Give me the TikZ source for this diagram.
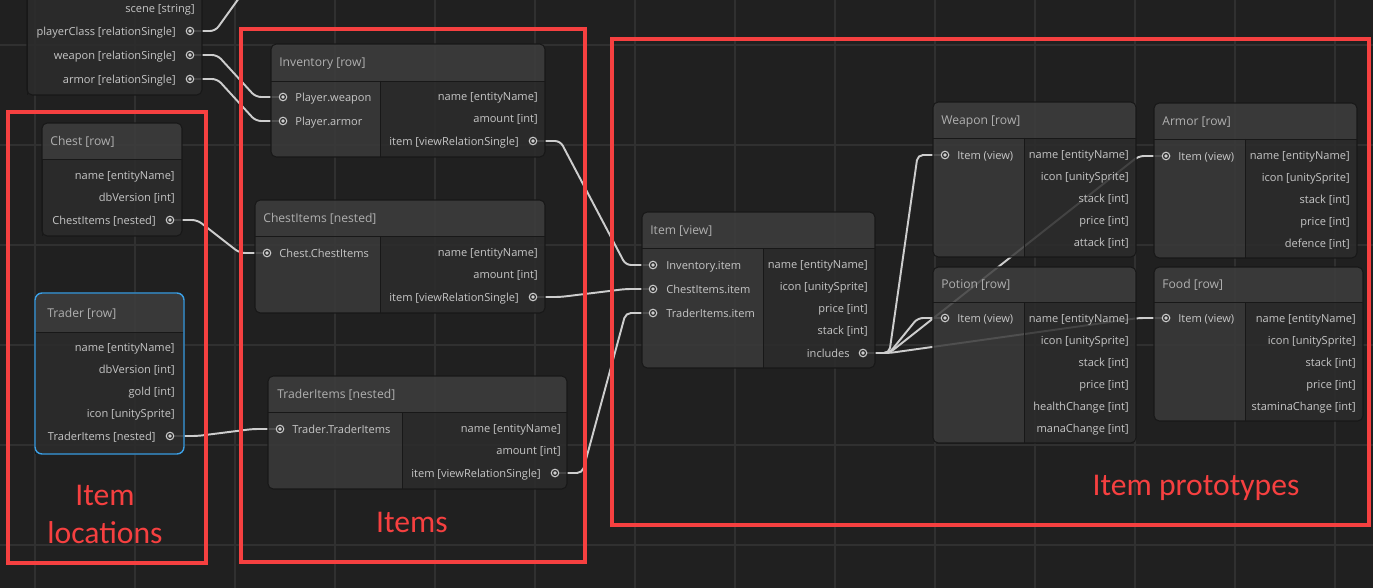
\documentclass[tikz,border=0pt]{standalone}
\usepackage{fontspec}
\setmainfont{Open Sans}
\newfontfamily\labelfont{Carlito}
\usetikzlibrary{calc}
\pgfdeclarelayer{bg}
\pgfdeclarelayer{links}
\pgfsetlayers{bg,links,main}
\definecolor{canvas}{RGB}{32,32,32}
\definecolor{gridline}{RGB}{48,48,48}
\definecolor{headfill}{RGB}{62,62,62}
\definecolor{bodyfill}{RGB}{44,44,44}
\definecolor{leftfill}{RGB}{58,58,58}
\definecolor{edgecol}{RGB}{24,24,24}
\definecolor{wirecol}{RGB}{205,205,205}
\definecolor{fieldtxt}{RGB}{198,198,198}
\definecolor{titletxt}{RGB}{176,176,176}
\definecolor{markred}{RGB}{246,64,64}
\definecolor{selblue}{RGB}{60,160,230}

\begin{document}
\begin{tikzpicture}[x=0.02cm, y=-0.02cm,
  fld/.style={inner sep=0pt, text=fieldtxt, font=\fontsize{6.3}{7}\selectfont},
  title/.style={inner sep=0pt, anchor=mid west, text=titletxt, font=\fontsize{6.9}{8}\selectfont},
  port/.style={circle, draw=wirecol, line width=0.6pt, fill=bodyfill, minimum size=4.3pt, inner sep=0pt,
    path picture={\fill[wirecol] (path picture bounding box.center) circle (1.05pt);}},
  wire/.style={draw=wirecol, line width=1.1pt, rounded corners=3pt},
  zone/.style={draw=markred, line width=1.8pt},
  zonetxt/.style={inner sep=0pt, anchor=base, text=markred, font=\labelfont\fontsize{18}{21}\selectfont}]
\useasboundingbox (0,0) rectangle (1373,588);
\begin{pgfonlayer}{bg}
\fill[canvas] (0,0) rectangle (1373,588);
\foreach \i in {0,...,13} \draw[gridline, line width=1pt] ({35+100*\i},0) -- ({35+100*\i},588);
\foreach \i in {0,...,5} \draw[gridline, line width=1pt] (0,{45+100*\i}) -- (1373,{45+100*\i});
\end{pgfonlayer}

\foreach \xa/\ya/\xb/\yb/\yh/\xl in {27/-40/202/95/-40/27, 42/123/182/236/159/42, 35/293/184/454/332/35,
    271/44/545/157/81/380, 255/200/545/313/236/380, 268/376/567/489/412/402, 642/212/875/368/248/763,
    933/102/1136/257/138/1024, 1154/103/1357/258/139/1245, 933/267/1136/443/302/1024, 1154/267/1363/421/302/1245} {
  \begin{scope}
    \clip[rounded corners=3pt] (\xa,\ya) rectangle (\xb,\yb);
    \fill[headfill, fill opacity=0.85] (\xa,\ya) rectangle (\xb,\yh);
    \fill[leftfill, fill opacity=0.85] (\xa,\yh) rectangle (\xl,\yb);
    \fill[bodyfill, fill opacity=0.85] (\xl,\yh) rectangle (\xb,\yb);
  \end{scope}
  \draw[edgecol, line width=0.5pt] (\xa,\yh) -- (\xb,\yh) (\xl,\yh) -- (\xl,\yb);
  \draw[edgecol, line width=0.6pt, rounded corners=3pt] (\xa,\ya) rectangle (\xb,\yb);
}
\draw[selblue, line width=0.8pt, rounded corners=4pt] (35,293) rectangle (184,454);

\node[title] (chest) at (50,141) {Chest [row]};
\node[title] (trader) at (47,313) {Trader [row]};
\node[title] (inv) at (279,62) {Inventory [row]};
\node[title] (chi) at (263,218) {ChestItems [nested]};
\node[title] (tri) at (277,394) {TraderItems [nested]};
\node[title] (itm) at (650,230) {Item [view]};
\node[title] (wpn) at (941,120) {Weapon [row]};
\node[title] (arm) at (1162,121) {Armor [row]};
\node[title] (pot) at (941,284) {Potion [row]};
\node[title] (food) at (1162,284) {Food [row]};

\node[fld, anchor=mid east] (pl-f0) at (195,8) {scene [string]};
\node[fld, anchor=mid east] (pl-f1) at (176,31) {playerClass [relationSingle]};
\node[fld, anchor=mid east] (pl-f2) at (176,55) {weapon [relationSingle]};
\node[fld, anchor=mid east] (pl-f3) at (176,79) {armor [relationSingle]};
\node[port] (pl-class) at (190,31) {};
\node[port] (pl-weapon) at (190,55) {};
\node[port] (pl-armor) at (190,79) {};

\foreach \t [count=\i] in {name [entityName], dbVersion [int]}
  \node[fld, anchor=mid east] (chest-f\i) at (175,{153+22*\i}) {\t};
\node[fld, anchor=mid east] (chest-f3) at (156,220) {ChestItems [nested]};
\node[port] (ch-items) at (170,220) {};

\foreach \t [count=\i] in {name [entityName], dbVersion [int], gold [int], icon [unitySprite]}
  \node[fld, anchor=mid east] (trader-f\i) at (175,{325+22*\i}) {\t};
\node[fld, anchor=mid east] (trader-f5) at (156,436) {TraderItems [nested]};
\node[port] (tr-items) at (170,436) {};

\foreach \t [count=\i] in {name [entityName], amount [int]}
  \node[fld, anchor=mid east] (inv-f\i) at (538,{74+22*\i}) {\t};
\node[fld, anchor=mid east] (inv-f3) at (519,141) {item [viewRelationSingle]};
\node[port] (inv-item) at (533,141) {};
\node[port] (inv-w) at (283,97) {};
\node[port] (inv-a) at (283,121) {};
\node[fld, anchor=mid west] (inv-l1) at (295,97) {Player.weapon};
\node[fld, anchor=mid west] (inv-l2) at (295,121) {Player.armor};

\foreach \t [count=\i] in {name [entityName], amount [int]}
  \node[fld, anchor=mid east] (chi-f\i) at (538,{230+22*\i}) {\t};
\node[fld, anchor=mid east] (chi-f3) at (519,297) {item [viewRelationSingle]};
\node[port] (chi-item) at (533,297) {};
\node[port] (chi-in) at (267,253) {};
\node[fld, anchor=mid west] (chi-l1) at (279,253) {Chest.ChestItems};

\foreach \t [count=\i] in {name [entityName], amount [int]}
  \node[fld, anchor=mid east] (tri-f\i) at (561,{406+22*\i}) {\t};
\node[fld, anchor=mid east] (tri-f3) at (541,473) {item [viewRelationSingle]};
\node[port] (tri-item) at (555,473) {};
\node[port] (tri-in) at (280,429) {};
\node[fld, anchor=mid west] (tri-l1) at (292,429) {Trader.TraderItems};

\foreach \t [count=\i] in {name [entityName], icon [unitySprite], price [int], stack [int]}
  \node[fld, anchor=mid east] (itm-f\i) at (868,{242+22*\i}) {\t};
\node[fld, anchor=mid east] (itm-f5) at (850,353) {includes};
\node[port] (itm-inc) at (863,353) {};
\node[port] (itm-inv) at (653,265) {};
\node[port] (itm-chi) at (653,289) {};
\node[port] (itm-tri) at (653,313) {};
\node[fld, anchor=mid west] (itm-l1) at (666,265) {Inventory.item};
\node[fld, anchor=mid west] (itm-l2) at (666,289) {ChestItems.item};
\node[fld, anchor=mid west] (itm-l3) at (666,313) {TraderItems.item};

\foreach \t [count=\i] in {name [entityName], icon [unitySprite], stack [int], price [int], attack [int]}
  \node[fld, anchor=mid east] (wpn-f\i) at (1129,{132+22*\i}) {\t};
\node[port] (wpn-in) at (945,155) {};
\node[fld, anchor=mid west] (wpn-l1) at (957,155) {Item (view)};

\foreach \t [count=\i] in {name [entityName], icon [unitySprite], stack [int], price [int], defence [int]}
  \node[fld, anchor=mid east] (arm-f\i) at (1350,{133+22*\i}) {\t};
\node[port] (arm-in) at (1166,156) {};
\node[fld, anchor=mid west] (arm-l1) at (1178,156) {Item (view)};

\foreach \t [count=\i] in {name [entityName], icon [unitySprite], stack [int], price [int], healthChange [int], manaChange [int]}
  \node[fld, anchor=mid east] (pot-f\i) at (1129,{296+22*\i}) {\t};
\node[port] (pot-in) at (945,318) {};
\node[fld, anchor=mid west] (pot-l1) at (957,318) {Item (view)};

\foreach \t [count=\i] in {name [entityName], icon [unitySprite], stack [int], price [int], staminaChange [int]}
  \node[fld, anchor=mid east] (food-f\i) at (1356,{296+22*\i}) {\t};
\node[port] (food-in) at (1166,318) {};
\node[fld, anchor=mid west] (food-l1) at (1178,318) {Item (view)};

\coordinate (pc-end) at (252,-20);
\begin{pgfonlayer}{links}
\draw[wire] (pl-class.east) -- ++(21,0) -- (pc-end);
\draw[wire] (pl-weapon.east) -- ++(23,0) -- ($(inv-w.west)+(-23,0)$) -- (inv-w.west);
\draw[wire] (pl-armor.east) -- ++(23,0) -- ($(inv-a.west)+(-23,0)$) -- (inv-a.west);
\draw[wire] (ch-items.east) -- ++(23,0) -- ($(chi-in.west)+(-23,0)$) -- (chi-in.west);
\draw[wire] (tr-items.east) -- ++(23,0) -- ($(tri-in.west)+(-23,0)$) -- (tri-in.west);
\draw[wire] (inv-item.east) -- ++(23,0) -- ($(itm-inv.west)+(-23,0)$) -- (itm-inv.west);
\draw[wire] (chi-item.east) -- ++(23,0) -- ($(itm-chi.west)+(-23,0)$) -- (itm-chi.west);
\draw[wire] (tri-item.east) -- ++(23,0) -- ($(itm-tri.west)+(-23,0)$) -- (itm-tri.west);
\draw[wire] (itm-inc.east) -- ++(22,0) -- ($(wpn-in.west)+(-23,0)$) -- (wpn-in.west);
\draw[wire] (itm-inc.east) -- ++(22,0) -- ($(arm-in.west)+(-23,0)$) -- (arm-in.west);
\draw[wire] (itm-inc.east) -- ++(22,0) -- ($(pot-in.west)+(-23,0)$) -- (pot-in.west);
\draw[wire] (itm-inc.east) -- ++(22,0) -- ($(food-in.west)+(-23,0)$) -- (food-in.west);
\end{pgfonlayer}

\draw[zone] (8,112) rectangle (206,563);
\draw[zone] (241,29) rectangle (585,562);
\draw[zone] (612,39) rectangle (1369,525);
\node[zonetxt] (loc-lbl) at (105,505) {Item};
\node[zonetxt] (loc-lbl2) at (105,543) {locations};
\node[zonetxt] (items-lbl) at (412,532) {Items};
\node[zonetxt] (proto-lbl) at (1196,495) {Item prototypes};
\end{tikzpicture}
\end{document}
